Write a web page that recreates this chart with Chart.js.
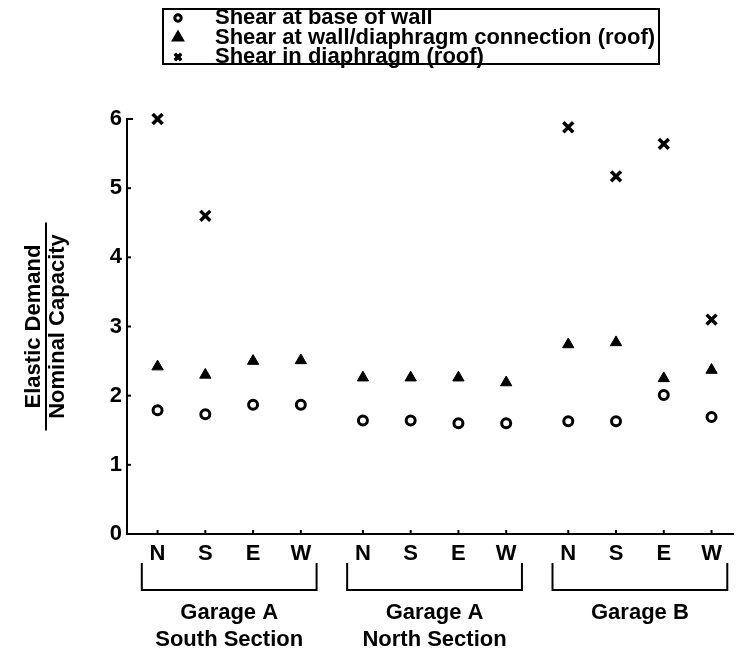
<!DOCTYPE html>
<html lang="en">
<head>
    <meta charset="UTF-8">
    <title>Elastic Demand / Nominal Capacity</title>
    <script src="https://cdn.jsdelivr.net/npm/chart.js"></script>
    <style>
        body { margin: 0; background: #fff; }
        canvas { display: block; }
    </style>
</head>
<body>

    <canvas id="myChart" width="744" height="656"></canvas>

    <script>
        // Datos
        const directions = ['N', 'S', 'E', 'W'];
        const groupNames = [
            ['Garage A', 'South Section'],
            ['Garage A', 'North Section'],
            ['Garage B']
        ];
        const seriesLabels = [
            'Shear at base of wall',
            'Shear at wall/diaphragm connection (roof)',
            'Shear in diaphragm (roof)'
        ];
        const baseShear = [1.79, 1.73, 1.87, 1.87, 1.64, 1.64, 1.60, 1.60, 1.63, 1.63, 2.01, 1.69];
        const connectionShear = [2.42, 2.30, 2.50, 2.51, 2.26, 2.26, 2.26, 2.19, 2.74, 2.77, 2.25, 2.37];
        const diaphragmShear = [6.0, 4.60, null, null, null, null, null, null, 5.88, 5.17, 5.64, 3.10];
        const yTicks = [0, 1, 2, 3, 4, 5, 6];

        // separacion entre grupos (en unidades de categoria)
        const GROUP_STEP = 4.3;
        const FONT = '"Liberation Sans", Arial, Helvetica, sans-serif';
        const TXT = 'bold 22px ' + FONT;

        function xPos(i) {
            return Math.floor(i / 4) * GROUP_STEP + (i % 4);
        }
        const xValues = baseShear.map((_, i) => xPos(i));

        function toPoints(arr) {
            const pts = [];
            arr.forEach((v, i) => {
                if (v !== null) pts.push({ x: xPos(i), y: v });
            });
            return pts;
        }

        Chart.defaults.font.family = FONT;
        Chart.defaults.color = '#000';

        // marcas hacia adentro, corchetes, titulo del eje y leyenda
        const extras = {
            id: 'extras',
            afterDraw(chart) {
                const ctx = chart.ctx;
                const xs = chart.scales.x;
                const ys = chart.scales.y;
                const area = chart.chartArea;
                ctx.save();
                ctx.strokeStyle = '#000';
                ctx.fillStyle = '#000';
                ctx.lineWidth = 2;

                // ticks eje y
                yTicks.forEach(v => {
                    if (v === 0) return;
                    const py = ys.getPixelForValue(v);
                    ctx.beginPath();
                    ctx.moveTo(area.left, py);
                    ctx.lineTo(area.left + (v === 6 ? 6 : 4), py);
                    ctx.stroke();
                });
                // ticks eje x
                xValues.forEach(v => {
                    const px = xs.getPixelForValue(v);
                    ctx.beginPath();
                    ctx.moveTo(px, area.bottom);
                    ctx.lineTo(px, area.bottom - 4);
                    ctx.stroke();
                });

                // corchetes de grupo
                ctx.font = TXT;
                ctx.textAlign = 'center';
                ctx.textBaseline = 'middle';
                groupNames.forEach((lines, g) => {
                    const x1 = xs.getPixelForValue(g * GROUP_STEP - 0.33);
                    const x2 = xs.getPixelForValue(g * GROUP_STEP + 3 + 0.33);
                    ctx.beginPath();
                    ctx.moveTo(x1, 563);
                    ctx.lineTo(x1, 590);
                    ctx.lineTo(x2, 590);
                    ctx.lineTo(x2, 563);
                    ctx.stroke();
                    lines.forEach((t, k) => {
                        ctx.fillText(t, (x1 + x2) / 2, 613 + k * 27);
                    });
                });

                // titulo eje y (fraccion)
                const cy = (area.top + area.bottom) / 2;
                ctx.save();
                ctx.translate(0, cy);
                ctx.rotate(-Math.PI / 2);
                ctx.font = TXT;
                ctx.fillText('Elastic Demand', 0, 34);
                ctx.fillText('Nominal Capacity', 0, 58);
                ctx.beginPath();
                ctx.moveTo(-104, 46);
                ctx.lineTo(104, 46);
                ctx.stroke();
                ctx.restore();

                // leyenda
                ctx.lineWidth = 2;
                ctx.strokeRect(163, 9, 496, 55);
                ctx.textAlign = 'left';
                ctx.font = TXT;
                chart.data.datasets.forEach((ds, k) => {
                    const ly = 18 + k * 19.5;
                    Chart.helpers.drawPoint(ctx, {
                        pointStyle: ds.pointStyle,
                        radius: ds.legendRadius,
                        borderWidth: ds.borderWidth,
                        rotation: 0
                    }, 178, ly);
                    ctx.fillStyle = ds.backgroundColor;
                    ctx.strokeStyle = '#000';
                    ctx.lineWidth = ds.borderWidth;
                    ctx.fill();
                    ctx.stroke();
                    ctx.fillStyle = '#000';
                    ctx.fillText(ds.label, 215, ly);
                });
                ctx.restore();
            }
        };

        const ctx = document.getElementById('myChart').getContext('2d');
        new Chart(ctx, {
            type: 'scatter',
            data: {
                datasets: [
                    {
                        label: seriesLabels[0],
                        data: toPoints(baseShear),
                        pointStyle: 'circle',
                        pointRadius: 4.5,
                        legendRadius: 3.2,
                        borderWidth: 3,
                        borderColor: '#000',
                        backgroundColor: '#fff',
                        clip: false
                    },
                    {
                        label: seriesLabels[1],
                        data: toPoints(connectionShear),
                        pointStyle: 'triangle',
                        pointRadius: 6.5,
                        legendRadius: 5,
                        borderWidth: 1,
                        borderColor: '#000',
                        backgroundColor: '#000',
                        clip: false
                    },
                    {
                        label: seriesLabels[2],
                        data: toPoints(diaphragmShear),
                        pointStyle: 'crossRot',
                        pointRadius: 7,
                        legendRadius: 4.5,
                        borderWidth: 3.5,
                        borderColor: '#000',
                        backgroundColor: '#000',
                        clip: false
                    }
                ]
            },
            options: {
                responsive: false,
                animation: false,
                layout: { padding: { top: 119, right: 1, left: 0, bottom: 0 } },
                plugins: {
                    legend: { display: false },
                    tooltip: { enabled: false }
                },
                scales: {
                    x: {
                        type: 'linear',
                        min: -0.64,
                        max: 12.06,
                        afterBuildTicks: scale => {
                            scale.ticks = xValues.map(v => ({ value: v }));
                        },
                        afterFit: scale => { scale.height = 122; },
                        ticks: {
                            autoSkip: false,
                            maxRotation: 0,
                            padding: 7,
                            font: { size: 22, weight: 'bold' },
                            callback: (v, i) => directions[i % 4]
                        },
                        grid: { display: false, drawTicks: false },
                        border: { display: true, color: '#000', width: 2 }
                    },
                    y: {
                        min: 0,
                        max: 6,
                        afterBuildTicks: scale => {
                            scale.ticks = yTicks.map(v => ({ value: v }));
                        },
                        afterFit: scale => { scale.width = 127; },
                        ticks: {
                            padding: 5,
                            font: { size: 22, weight: 'bold' }
                        },
                        grid: { display: false, drawTicks: false },
                        border: { display: true, color: '#000', width: 2 }
                    }
                }
            },
            plugins: [extras]
        });
    </script>
</body>
</html>
